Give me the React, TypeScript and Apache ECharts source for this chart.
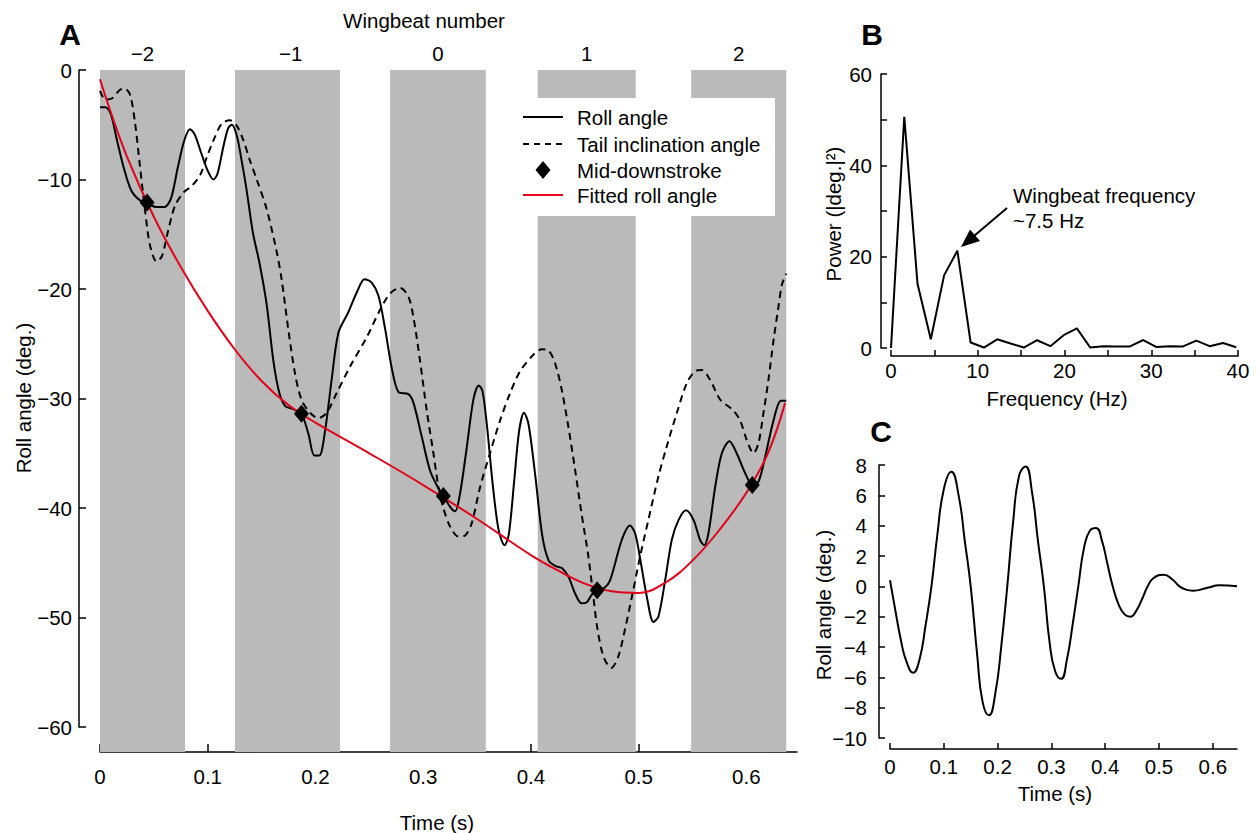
import React, { useEffect, useRef } from 'react';
import * as echarts from 'echarts';

const FONT = '"Liberation Sans", Arial, Helvetica, sans-serif';
const FS = 20.5;

// ---------- Panel A ----------
const downstrokeBands: [number, number][] = [
  [0, 0.079], [0.1253, 0.2228], [0.2693, 0.3581], [0.4063, 0.4973], [0.5487, 0.637],
];
const wingbeatNumbers = ['\u22122', '\u22121', '0', '1', '2'];
const wingbeatTimes = [0.0395, 0.177, 0.3137, 0.4518, 0.5929];
const timeTicksA = [0, 0.1, 0.2, 0.3, 0.4, 0.5, 0.6];
const legendNames = ['Roll angle', 'Tail inclination angle', 'Mid-downstroke', 'Fitted roll angle'];

const rollAngle: [number, number][] = [
  [0, -3.4], [0.005, -3.4], [0.010, -4.0], [0.0155, -6.3], [0.022, -8.9], [0.029, -11.0],
  [0.037, -11.9], [0.044, -12.2], [0.052, -12.5], [0.060, -12.5], [0.066, -11.7], [0.072, -9.0],
  [0.078, -6.5], [0.0835, -5.4], [0.088, -5.9], [0.094, -7.6], [0.100, -9.2], [0.1052, -10.0],
  [0.109, -9.5], [0.1145, -7.0], [0.119, -5.3], [0.1225, -5.0], [0.127, -6.0], [0.131, -8.0],
  [0.136, -10.9], [0.142, -14.9], [0.148, -17.6], [0.1547, -21.4], [0.161, -26.6], [0.1665, -29.5],
  [0.172, -30.7], [0.180, -31.0], [0.187, -31.4], [0.1934, -33.2], [0.199, -35.2], [0.2036, -35.2],
  [0.209, -32.9], [0.215, -28.3], [0.2213, -24.0], [0.2306, -22.1], [0.2384, -20.3], [0.2455, -19.1],
  [0.252, -19.4], [0.2584, -20.6], [0.2646, -23.6], [0.2708, -27.2], [0.277, -29.4], [0.2863, -29.6],
  [0.291, -30.4], [0.2987, -33.5], [0.3064, -36.6], [0.3141, -38.2], [0.319, -38.9], [0.325, -39.9],
  [0.3296, -40.3], [0.334, -38.8], [0.340, -34.8], [0.3466, -30.1], [0.3515, -28.8], [0.355, -29.3],
  [0.359, -32.3], [0.3645, -37.8], [0.370, -42.0], [0.3755, -43.4], [0.3795, -42.4], [0.3845, -37.5],
  [0.389, -33.0], [0.3935, -31.3], [0.3977, -32.3], [0.404, -37.0], [0.4105, -42.5], [0.4165, -44.8],
  [0.423, -45.3], [0.429, -45.5], [0.435, -46.3], [0.441, -47.8], [0.447, -48.7], [0.452, -48.6],
  [0.4565, -47.9], [0.4615, -47.5], [0.468, -47.3], [0.4735, -46.6], [0.4844, -42.9], [0.492, -41.6],
  [0.4967, -42.3], [0.501, -44.4], [0.5076, -48.1], [0.5137, -50.4], [0.5184, -49.9], [0.5246, -46.6],
  [0.5308, -42.9], [0.537, -41.1], [0.544, -40.2], [0.551, -41.1], [0.557, -42.9], [0.5608, -43.4],
  [0.5648, -42.3], [0.571, -38.1], [0.5772, -35.0], [0.5843, -33.9], [0.591, -35.0], [0.5988, -36.8],
  [0.6055, -37.9], [0.6112, -37.6], [0.6175, -35.3], [0.6252, -32.0], [0.632, -30.2], [0.637, -30.2],
];

const tailAngle: [number, number][] = [
  [0, -1.9], [0.005, -2.7], [0.011, -2.6], [0.0186, -1.8], [0.023, -1.7], [0.028, -2.3],
  [0.0325, -4.8], [0.037, -8.7], [0.0418, -12.8], [0.0464, -16.0], [0.0525, -17.5], [0.0575, -17.0],
  [0.0634, -14.6], [0.0696, -12.4], [0.0774, -11.2], [0.085, -10.6], [0.0929, -9.6], [0.099, -8.0],
  [0.105, -6.5], [0.113, -4.9], [0.1207, -4.6], [0.127, -5.1], [0.133, -6.4], [0.1393, -8.3],
  [0.1455, -10.0], [0.1547, -12.7], [0.164, -16.6], [0.1687, -19.2], [0.1748, -23.7], [0.181, -27.7],
  [0.187, -30.1], [0.195, -31.3], [0.2027, -31.8], [0.2104, -31.3], [0.2197, -29.5], [0.232, -27.1],
  [0.2476, -24.4], [0.26, -21.9], [0.2693, -20.4], [0.2786, -19.9], [0.2863, -20.7], [0.291, -22.6],
  [0.297, -26.5], [0.3033, -31.1], [0.3095, -35.0], [0.3142, -38.1], [0.3187, -40.0], [0.325, -41.7],
  [0.3327, -42.6], [0.339, -42.5], [0.345, -41.4], [0.3528, -38.1], [0.362, -35.0], [0.3714, -32.0],
  [0.3807, -29.5], [0.39, -27.5], [0.4023, -26.0], [0.41, -25.5], [0.4162, -25.6], [0.4225, -26.8],
  [0.4286, -29.2], [0.4348, -32.6], [0.441, -36.5], [0.447, -40.5], [0.4533, -44.4], [0.458, -48.1],
  [0.4617, -51.0], [0.4675, -53.6], [0.4746, -54.6], [0.481, -53.6], [0.4875, -51.0], [0.495, -47.5],
  [0.5014, -44.4], [0.509, -41.1], [0.5184, -37.1], [0.526, -34.4], [0.5355, -31.3], [0.5447, -28.6],
  [0.5525, -27.5], [0.5587, -27.4], [0.5664, -28.3], [0.5757, -30.1], [0.588, -31.1], [0.5942, -32.0],
  [0.6004, -33.8], [0.6066, -35.0], [0.6112, -34.1], [0.6159, -31.3], [0.6205, -28.3], [0.6252, -24.7],
  [0.6298, -21.6], [0.633, -19.6], [0.637, -18.6],
];

const fittedRoll: [number, number][] = [
  [0, -0.85], [0.0093, -3.65], [0.025, -7.9], [0.05, -13.4], [0.075, -18.0], [0.1, -22.0],
  [0.125, -25.5], [0.15, -28.4], [0.175, -30.6], [0.2, -32.2], [0.25, -35.0], [0.3, -37.9],
  [0.35, -41.0], [0.4, -44.3], [0.425, -45.7], [0.45, -46.9], [0.475, -47.6], [0.5, -47.75],
  [0.525, -46.8], [0.55, -44.8], [0.575, -42.0], [0.6, -38.6], [0.62, -35.0], [0.636, -30.4],
];

const midDownstroke: [number, number][] = [
  [0.0437, -12.1], [0.187, -31.4], [0.3187, -38.9], [0.4615, -47.5], [0.6055, -37.9],
];

// ---------- Panel B ----------
const freqHz = [
  0, 1.53, 3.06, 4.59, 6.12, 7.65, 9.18, 10.71, 12.24, 13.78, 15.31, 16.84, 18.37, 19.9,
  21.43, 22.96, 24.49, 26.02, 27.55, 29.08, 30.61, 32.14, 33.67, 35.2, 36.73, 38.27, 39.8,
];
const powerVals = [
  0, 50.6, 14.0, 1.9, 15.9, 21.3, 1.2, 0.1, 1.9, 1.0, 0.1, 1.7, 0.4, 2.8,
  4.3, 0.1, 0.4, 0.35, 0.35, 1.75, 0.2, 0.4, 0.35, 1.6, 0.4, 1.1, 0.15,
];

// ---------- Panel C ----------
const rollOscillation: [number, number][] = [
  [0, 0.4], [0.01, -1.6], [0.02, -3.5], [0.03, -4.9], [0.043, -5.7], [0.055, -4.8], [0.066, -2.6],
  [0.077, 0], [0.088, 3.4], [0.1, 6.4], [0.114, 7.55], [0.128, 5.9], [0.139, 3.0], [0.15, 0],
  [0.162, -4.5], [0.172, -7.6], [0.184, -8.5], [0.196, -7.0], [0.207, -3.9], [0.218, 0],
  [0.229, 4.3], [0.24, 7.3], [0.252, 7.9], [0.264, 6.2], [0.275, 3.0], [0.286, 0],
  [0.297, -3.8], [0.307, -5.6], [0.318, -6.1], [0.329, -4.8], [0.34, -2.4], [0.35, 0],
  [0.361, 2.6], [0.372, 3.7], [0.383, 3.85], [0.394, 3.0], [0.404, 1.5], [0.414, 0],
  [0.425, -1.2], [0.436, -1.85], [0.447, -2.0], [0.458, -1.6], [0.469, -0.8], [0.479, 0],
  [0.49, 0.55], [0.509, 0.77], [0.525, 0.45], [0.538, 0], [0.55, -0.22], [0.563, -0.29],
  [0.59, -0.1], [0.612, 0.07], [0.645, 0.0],
];
const timeTicksC = [0, 0.1, 0.2, 0.3, 0.4, 0.5, 0.6];

const RED = '#e2001a';

const fmtNum = (v: number) => {
  const r = Math.round(v * 1000) / 1000;
  return r < 0 ? '\u2212' + String(Math.abs(r)) : String(r);
};

const axisLine = { show: true, onZero: false, lineStyle: { color: '#000', width: 1.5 } };
const labelBase = { color: '#000', fontSize: FS, fontFamily: FONT };

function txt(x: number, y: number, text: string, extra: any = {}, rot = 0) {
  return {
    type: 'text', x, y, rotation: rot, silent: true, z: extra.z || 50,
    style: {
      text, fill: '#000', font: `${extra.weight || 'normal'} ${extra.size || FS}px ${FONT}`,
      align: extra.align || 'center', verticalAlign: 'middle',
      textAlign: extra.align || 'center', textVerticalAlign: 'middle',
    },
  };
}

// legend layout (decoration only)
const LEG = { x: 512, y: 98, w: 263, h: 118, rows: [117, 144, 170, 195], lx1: 523, lx2: 563, tx: 577 };

export default function App() {
  const ref = useRef<HTMLDivElement>(null);
  useEffect(() => {
    if (!ref.current) return;
    const chart = echarts.init(ref.current, null, { renderer: 'svg' });
    const legendGraphics: any[] = [
      { type: 'rect', silent: true, z: 100, shape: { x: LEG.x, y: LEG.y, width: LEG.w, height: LEG.h }, style: { fill: '#fff' } },
      { type: 'line', silent: true, z: 101, shape: { x1: LEG.lx1, y1: LEG.rows[0], x2: LEG.lx2, y2: LEG.rows[0] }, style: { stroke: '#000', lineWidth: 2 } },
      { type: 'line', silent: true, z: 101, shape: { x1: LEG.lx1, y1: LEG.rows[1], x2: LEG.lx2, y2: LEG.rows[1] }, style: { stroke: '#000', lineWidth: 2, lineDash: [6, 5] } },
      {
        type: 'polygon', silent: true, z: 101,
        shape: { points: [[543, LEG.rows[2] - 9], [550.5, LEG.rows[2]], [543, LEG.rows[2] + 9], [535.5, LEG.rows[2]]] },
        style: { fill: '#000' },
      },
      { type: 'line', silent: true, z: 101, shape: { x1: LEG.lx1, y1: LEG.rows[3], x2: LEG.lx2, y2: LEG.rows[3] }, style: { stroke: RED, lineWidth: 2 } },
      ...legendNames.map((n, i) => txt(LEG.tx, LEG.rows[i], n, { align: 'left', z: 101 })),
    ];
    const option: any = {
      animation: false,
      backgroundColor: '#fff',
      textStyle: { fontFamily: FONT },
      grid: [
        { left: 100, top: 70, width: 697, height: 682 },
        { left: 79, top: 70, width: 21, height: 657 },
        { left: 891, top: 74, width: 347, height: 274 },
        { left: 890, top: 465, width: 347, height: 273 },
      ],
      xAxis: [
        {
          gridIndex: 0, type: 'value', min: 0, max: 0.647, interval: 0.1, position: 'bottom',
          axisLine, splitLine: { show: false },
          axisTick: { show: true, inside: true, length: 8, lineStyle: { color: '#000', width: 1.5 }, customValues: timeTicksA },
          axisLabel: { ...labelBase, margin: 14, customValues: timeTicksA, formatter: (v: number) => fmtNum(v) },
        },
        { gridIndex: 1, type: 'value', min: 0, max: 1, show: false },
        {
          gridIndex: 2, type: 'value', min: 0, max: 40, interval: 5, offset: 8, position: 'bottom',
          axisLine, splitLine: { show: false },
          axisTick: { show: true, inside: true, length: 6, lineStyle: { color: '#000', width: 1.5 } },
          axisLabel: { ...labelBase, margin: 4, formatter: (v: number) => (v % 10 === 0 ? fmtNum(v) : '') },
        },
        {
          gridIndex: 3, type: 'value', min: 0, max: 0.645, interval: 0.1, offset: 11, position: 'bottom',
          axisLine, splitLine: { show: false },
          axisTick: { show: true, inside: true, length: 6, lineStyle: { color: '#000', width: 1.5 }, customValues: timeTicksC },
          axisLabel: { ...labelBase, margin: 7, customValues: timeTicksC, formatter: (v: number) => fmtNum(v) },
        },
      ],
      yAxis: [
        { gridIndex: 0, type: 'value', min: -62.28, max: 0, show: false },
        {
          gridIndex: 1, type: 'value', min: -60, max: 0, interval: 10, position: 'left',
          axisLine, splitLine: { show: false },
          axisTick: { show: true, inside: true, length: 7, lineStyle: { color: '#000', width: 1.5 } },
          axisLabel: { ...labelBase, margin: 7, formatter: (v: number) => fmtNum(v) },
        },
        {
          gridIndex: 2, type: 'value', min: 0, max: 60, interval: 10, offset: 10, position: 'left',
          axisLine, splitLine: { show: false },
          axisTick: { show: true, inside: true, length: 6, lineStyle: { color: '#000', width: 1.5 } },
          axisLabel: { ...labelBase, margin: 9, formatter: (v: number) => (v % 20 === 0 ? fmtNum(v) : '') },
        },
        {
          gridIndex: 3, type: 'value', min: -10, max: 8, interval: 2, offset: 11, position: 'left',
          axisLine, splitLine: { show: false },
          axisTick: { show: true, inside: true, length: 6, lineStyle: { color: '#000', width: 1.5 } },
          axisLabel: { ...labelBase, margin: 12, formatter: (v: number) => fmtNum(v) },
        },
      ],
      series: [
        {
          name: legendNames[0], type: 'line', xAxisIndex: 0, yAxisIndex: 0, data: rollAngle,
          symbol: 'none', smooth: 0.3, clip: false, z: 3,
          lineStyle: { color: '#000', width: 2 }, itemStyle: { color: '#000' },
          markArea: {
            silent: true, itemStyle: { color: '#bababa', borderWidth: 0, opacity: 1 },
            data: downstrokeBands.map(([s, e]) => [{ xAxis: s }, { xAxis: e }]),
          },
        },
        {
          name: legendNames[1], type: 'line', xAxisIndex: 0, yAxisIndex: 0, data: tailAngle,
          symbol: 'none', smooth: 0.3, clip: false, z: 3,
          lineStyle: { color: '#000', width: 2, type: [7, 5] }, itemStyle: { color: '#000' },
        },
        {
          name: legendNames[3], type: 'line', xAxisIndex: 0, yAxisIndex: 0, data: fittedRoll,
          symbol: 'none', smooth: 0.4, clip: false, z: 4,
          lineStyle: { color: RED, width: 2 }, itemStyle: { color: RED },
        },
        {
          name: legendNames[2], type: 'scatter', xAxisIndex: 0, yAxisIndex: 0, data: midDownstroke,
          symbol: 'diamond', symbolSize: [15, 18], clip: false, z: 5,
          itemStyle: { color: '#000', opacity: 1 },
        },
        {
          name: 'wingbeat', type: 'scatter', xAxisIndex: 0, yAxisIndex: 0,
          data: wingbeatTimes.map((t) => [t, 0]), symbolSize: 1, clip: false, silent: true, z: 5,
          itemStyle: { color: 'rgba(0,0,0,0)' },
          label: {
            show: true, position: 'top', distance: 6, ...labelBase, opacity: 1,
            formatter: (p: any) => wingbeatNumbers[p.dataIndex],
          },
        },
        {
          name: 'Power', type: 'line', xAxisIndex: 2, yAxisIndex: 2,
          data: freqHz.map((f, i) => [f, powerVals[i]]),
          symbol: 'none', clip: false, lineStyle: { color: '#000', width: 2 },
        },
        {
          name: 'Oscillation', type: 'line', xAxisIndex: 3, yAxisIndex: 3, data: rollOscillation,
          symbol: 'none', smooth: 0.5, clip: false, lineStyle: { color: '#000', width: 2 },
        },
      ],
      graphic: [
        txt(70, 34, 'A', { weight: 'bold', size: 30 }),
        txt(872, 34, 'B', { weight: 'bold', size: 30 }),
        txt(881, 431, 'C', { weight: 'bold', size: 30 }),
        txt(424, 20, 'Wingbeat number'),
        txt(437, 822, 'Time (s)'),
        txt(23, 398, 'Roll angle (deg.)', {}, Math.PI / 2),
        txt(833, 214, 'Power (|deg.|\u00b2)', {}, Math.PI / 2),
        txt(1057, 398, 'Frequency (Hz)'),
        txt(823, 605, 'Roll angle (deg.)', {}, Math.PI / 2),
        txt(1055, 793, 'Time (s)'),
        txt(1013, 195, 'Wingbeat frequency', { align: 'left' }),
        txt(1013, 220, '~7.5 Hz', { align: 'left' }),
        {
          type: 'line', silent: true, z: 50,
          shape: { x1: 1007, y1: 208, x2: 974, y2: 236 },
          style: { stroke: '#000', lineWidth: 2 },
        },
        {
          type: 'polygon', silent: true, z: 50,
          shape: { points: [[961, 247], [970, 229.5], [980, 241]] },
          style: { fill: '#000' },
        },
        ...legendGraphics,
      ],
    };
    chart.setOption(option);
    return () => chart.dispose();
  }, []);
  return (
    <div
      ref={ref}
      style={{ position: 'fixed', left: 0, top: 0, width: 1259, height: 833, background: '#fff' }}
    />
  );
}
